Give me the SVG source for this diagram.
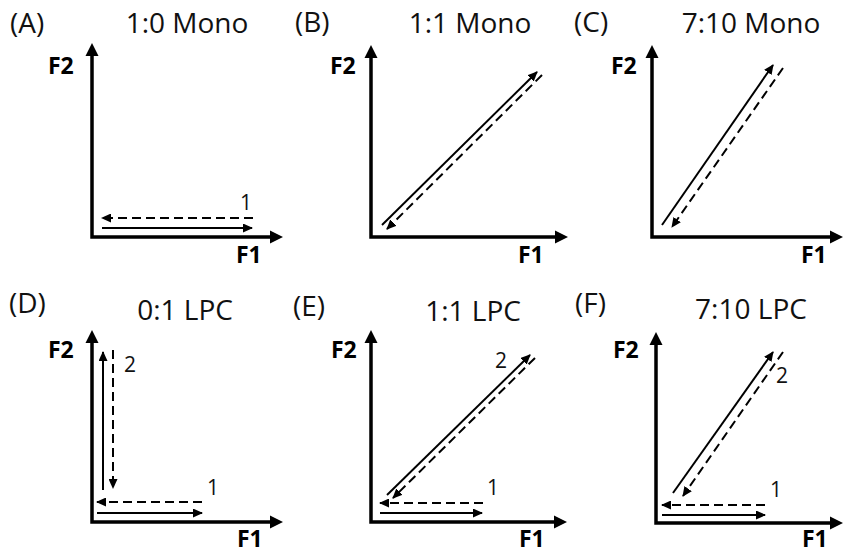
<svg xmlns="http://www.w3.org/2000/svg" width="845" height="554" viewBox="0 0 845 554">
<style>
.bg{fill:#ffffff}
.axis{fill:none;stroke:#000;stroke-width:3.5;stroke-linejoin:miter;marker-start:url(#axhead);marker-end:url(#axhead)}
.sol{fill:none;stroke:#000;stroke-width:2;marker-end:url(#head)}
.dash{fill:none;stroke:#000;stroke-width:2;stroke-dasharray:9 5;marker-end:url(#head)}
.lab{font-family:"Open Sans","Liberation Sans",sans-serif;font-size:28px;fill:#111}
.ttl{font-family:"Open Sans","Liberation Sans",sans-serif;font-size:28px;fill:#111;text-anchor:middle}
.ax{font-family:"Open Sans","Liberation Sans",sans-serif;font-size:23px;font-weight:bold;fill:#000}
.num{font-family:"Open Sans","Liberation Sans",sans-serif;font-size:21px;fill:#111}
</style>
<defs>
<marker id="axhead" markerUnits="userSpaceOnUse" markerWidth="14" markerHeight="14" refX="2" refY="6.5" orient="auto-start-reverse" viewBox="0 0 14 13">
<path d="M0,0 L13,6.5 L0,13 z" fill="#000"/>
</marker>
<marker id="head" markerUnits="userSpaceOnUse" markerWidth="11" markerHeight="9" refX="9" refY="4.5" orient="auto" viewBox="0 0 11 9">
<path d="M0,0 L10,4.5 L0,9 z" fill="#000"/>
</marker>
</defs>
<rect class="bg" x="0" y="0" width="845" height="554"/>

<g id="panelA">
<text class="lab" x="10" y="33">(A)</text>
<text class="ttl" x="187" y="33">1:0 Mono</text>
<text class="ax" x="48" y="74">F2</text>
<text class="ax" x="236" y="263">F1</text>
<text class="num" x="240" y="210">1</text>
</g>
<g id="panelB">
<text class="lab" x="295" y="32">(B)</text>
<text class="ttl" x="470" y="33">1:1 Mono</text>
<text class="ax" x="330" y="74">F2</text>
<text class="ax" x="518" y="263">F1</text>
</g>
<g id="panelC">
<text class="lab" x="574" y="32">(C)</text>
<text class="ttl" x="751" y="33">7:10 Mono</text>
<text class="ax" x="611" y="74">F2</text>
<text class="ax" x="801" y="263">F1</text>
</g>
<g id="panelD">
<text class="lab" x="9" y="313">(D)</text>
<text class="ttl" x="185" y="320">0:1 LPC</text>
<text class="ax" x="48" y="358">F2</text>
<text class="ax" x="237" y="547">F1</text>
<text class="num" x="124" y="372">2</text>
<text class="num" x="207" y="495">1</text>
</g>
<g id="panelE">
<text class="lab" x="293" y="316">(E)</text>
<text class="ttl" x="473" y="321">1:1 LPC</text>
<text class="ax" x="331" y="358">F2</text>
<text class="ax" x="519" y="547">F1</text>
<text class="num" x="495" y="368">2</text>
<text class="num" x="487" y="495">1</text>
</g>
<g id="panelF">
<text class="lab" x="575" y="313">(F)</text>
<text class="ttl" x="751" y="319">7:10 LPC</text>
<text class="ax" x="613" y="358">F2</text>
<text class="ax" x="802" y="547">F1</text>
<text class="num" x="776" y="383">2</text>
<text class="num" x="770" y="497">1</text>
</g>

<g id="connectors">
<path class="axis" d="M92,54 L92,237 L272,237"/>
<path class="axis" d="M371,56 L371,237 L557,237"/>
<path class="axis" d="M652,56 L652,237 L832,237"/>
<path class="axis" d="M92,341 L92,522 L272,522"/>
<path class="axis" d="M371,341 L371,522 L556,522"/>
<path class="axis" d="M656,343 L656,523 L832,523"/>
<line class="sol" x1="102" y1="228" x2="252" y2="228"/>
<line class="dash" x1="253" y1="218" x2="102" y2="218"/>
<line class="sol" x1="382" y1="225" x2="537" y2="72"/>
<line class="dash" x1="542" y1="75" x2="387" y2="229"/>
<line class="sol" x1="662" y1="225" x2="773" y2="65"/>
<line class="dash" x1="783" y1="68" x2="672" y2="227"/>
<line class="sol" x1="103" y1="490" x2="103" y2="352"/>
<line class="dash" x1="113" y1="350" x2="113" y2="488"/>
<line class="dash" x1="202" y1="502" x2="97" y2="502"/>
<line class="sol" x1="97" y1="513" x2="202" y2="513"/>
<line class="sol" x1="387" y1="495" x2="530" y2="355"/>
<line class="dash" x1="535" y1="358" x2="393" y2="498"/>
<line class="dash" x1="483" y1="503" x2="380" y2="503"/>
<line class="sol" x1="380" y1="513" x2="482" y2="513"/>
<line class="sol" x1="673" y1="493" x2="773" y2="352"/>
<line class="dash" x1="783" y1="352" x2="683" y2="496"/>
<line class="dash" x1="765" y1="505" x2="662" y2="505"/>
<line class="sol" x1="662" y1="515" x2="765" y2="515"/>
</g>
</svg>
